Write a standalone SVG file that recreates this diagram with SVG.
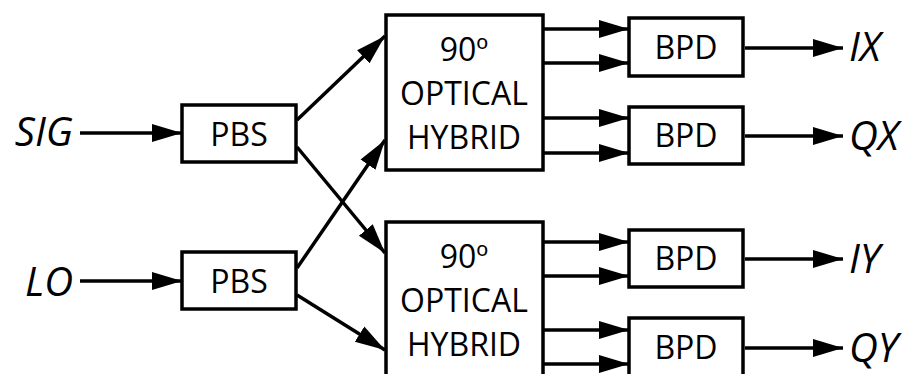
<svg xmlns="http://www.w3.org/2000/svg" width="906" height="374" viewBox="0 0 906 374">
<defs>
<style>
.box{fill:#fff;stroke:#000;stroke-width:3.5}
.t{font-family:"Open Sans","Noto Sans","Liberation Sans",sans-serif;font-size:32px;fill:#000;text-anchor:middle}
.l{font-family:"Open Sans","Noto Sans","Liberation Sans",sans-serif;font-size:40px;font-style:italic;fill:#000}
.c line{stroke:#000;stroke-width:3.5;marker-end:url(#ah)}
</style>
<marker id="ah" markerUnits="userSpaceOnUse" markerWidth="32" markerHeight="20" refX="30" refY="9" orient="auto" viewBox="0 0 32 18">
<path d="M0,0 L30,9 L0,18 Z" fill="#000"/>
</marker>
</defs>
<rect width="906" height="374" fill="#fff"/>
<g class="c" id="connectors">
<line x1="80" y1="133" x2="182" y2="133"/>
<line x1="80" y1="281" x2="182" y2="281"/>
<line x1="297" y1="120" x2="385" y2="36"/>
<line x1="297" y1="147" x2="385" y2="253"/>
<line x1="297" y1="268" x2="385" y2="140"/>
<line x1="297" y1="295" x2="385" y2="350"/>
<line x1="543" y1="29" x2="629" y2="29"/>
<line x1="543" y1="63" x2="629" y2="63"/>
<line x1="543" y1="118" x2="629" y2="118"/>
<line x1="543" y1="153" x2="629" y2="153"/>
<line x1="543" y1="242" x2="629" y2="242"/>
<line x1="543" y1="276" x2="629" y2="276"/>
<line x1="543" y1="330" x2="629" y2="330"/>
<line x1="543" y1="364" x2="629" y2="364"/>
<line x1="745" y1="48" x2="843" y2="48"/>
<line x1="745" y1="136" x2="843" y2="136"/>
<line x1="745" y1="259" x2="843" y2="259"/>
<line x1="745" y1="348" x2="843" y2="348"/>
</g>
<g id="pbs1"><rect class="box" x="182" y="105" width="114" height="57"/><text class="t" x="239" y="146">PBS</text></g>
<g id="pbs2"><rect class="box" x="182" y="252" width="114" height="57"/><text class="t" x="239" y="293">PBS</text></g>
<g id="hybrid1"><rect class="box" x="386" y="15" width="157" height="155"/>
<text class="t" x="464" y="61">90º</text><text class="t" x="464" y="105">OPTICAL</text><text class="t" x="464" y="149">HYBRID</text></g>
<g id="hybrid2"><rect class="box" x="386" y="222" width="157" height="155"/>
<text class="t" x="464" y="268">90º</text><text class="t" x="464" y="312">OPTICAL</text><text class="t" x="464" y="356">HYBRID</text></g>
<g id="bpd1"><rect class="box" x="629" y="18" width="114" height="58"/><text class="t" x="686" y="59">BPD</text></g>
<g id="bpd2"><rect class="box" x="629" y="107" width="114" height="57"/><text class="t" x="686" y="147">BPD</text></g>
<g id="bpd3"><rect class="box" x="629" y="230" width="114" height="57"/><text class="t" x="686" y="270">BPD</text></g>
<g id="bpd4"><rect class="box" x="629" y="318" width="114" height="58"/><text class="t" x="686" y="359">BPD</text></g>
<g id="sig"><text class="l" x="73" y="146" text-anchor="end">SIG</text></g>
<g id="lo"><text class="l" x="73" y="296" text-anchor="end">LO</text></g>
<g id="ix"><text class="l" x="849" y="61">IX</text></g>
<g id="qx"><text class="l" x="849" y="150">QX</text></g>
<g id="iy"><text class="l" x="849" y="273">IY</text></g>
<g id="qy"><text class="l" x="849" y="362">QY</text></g>
</svg>
